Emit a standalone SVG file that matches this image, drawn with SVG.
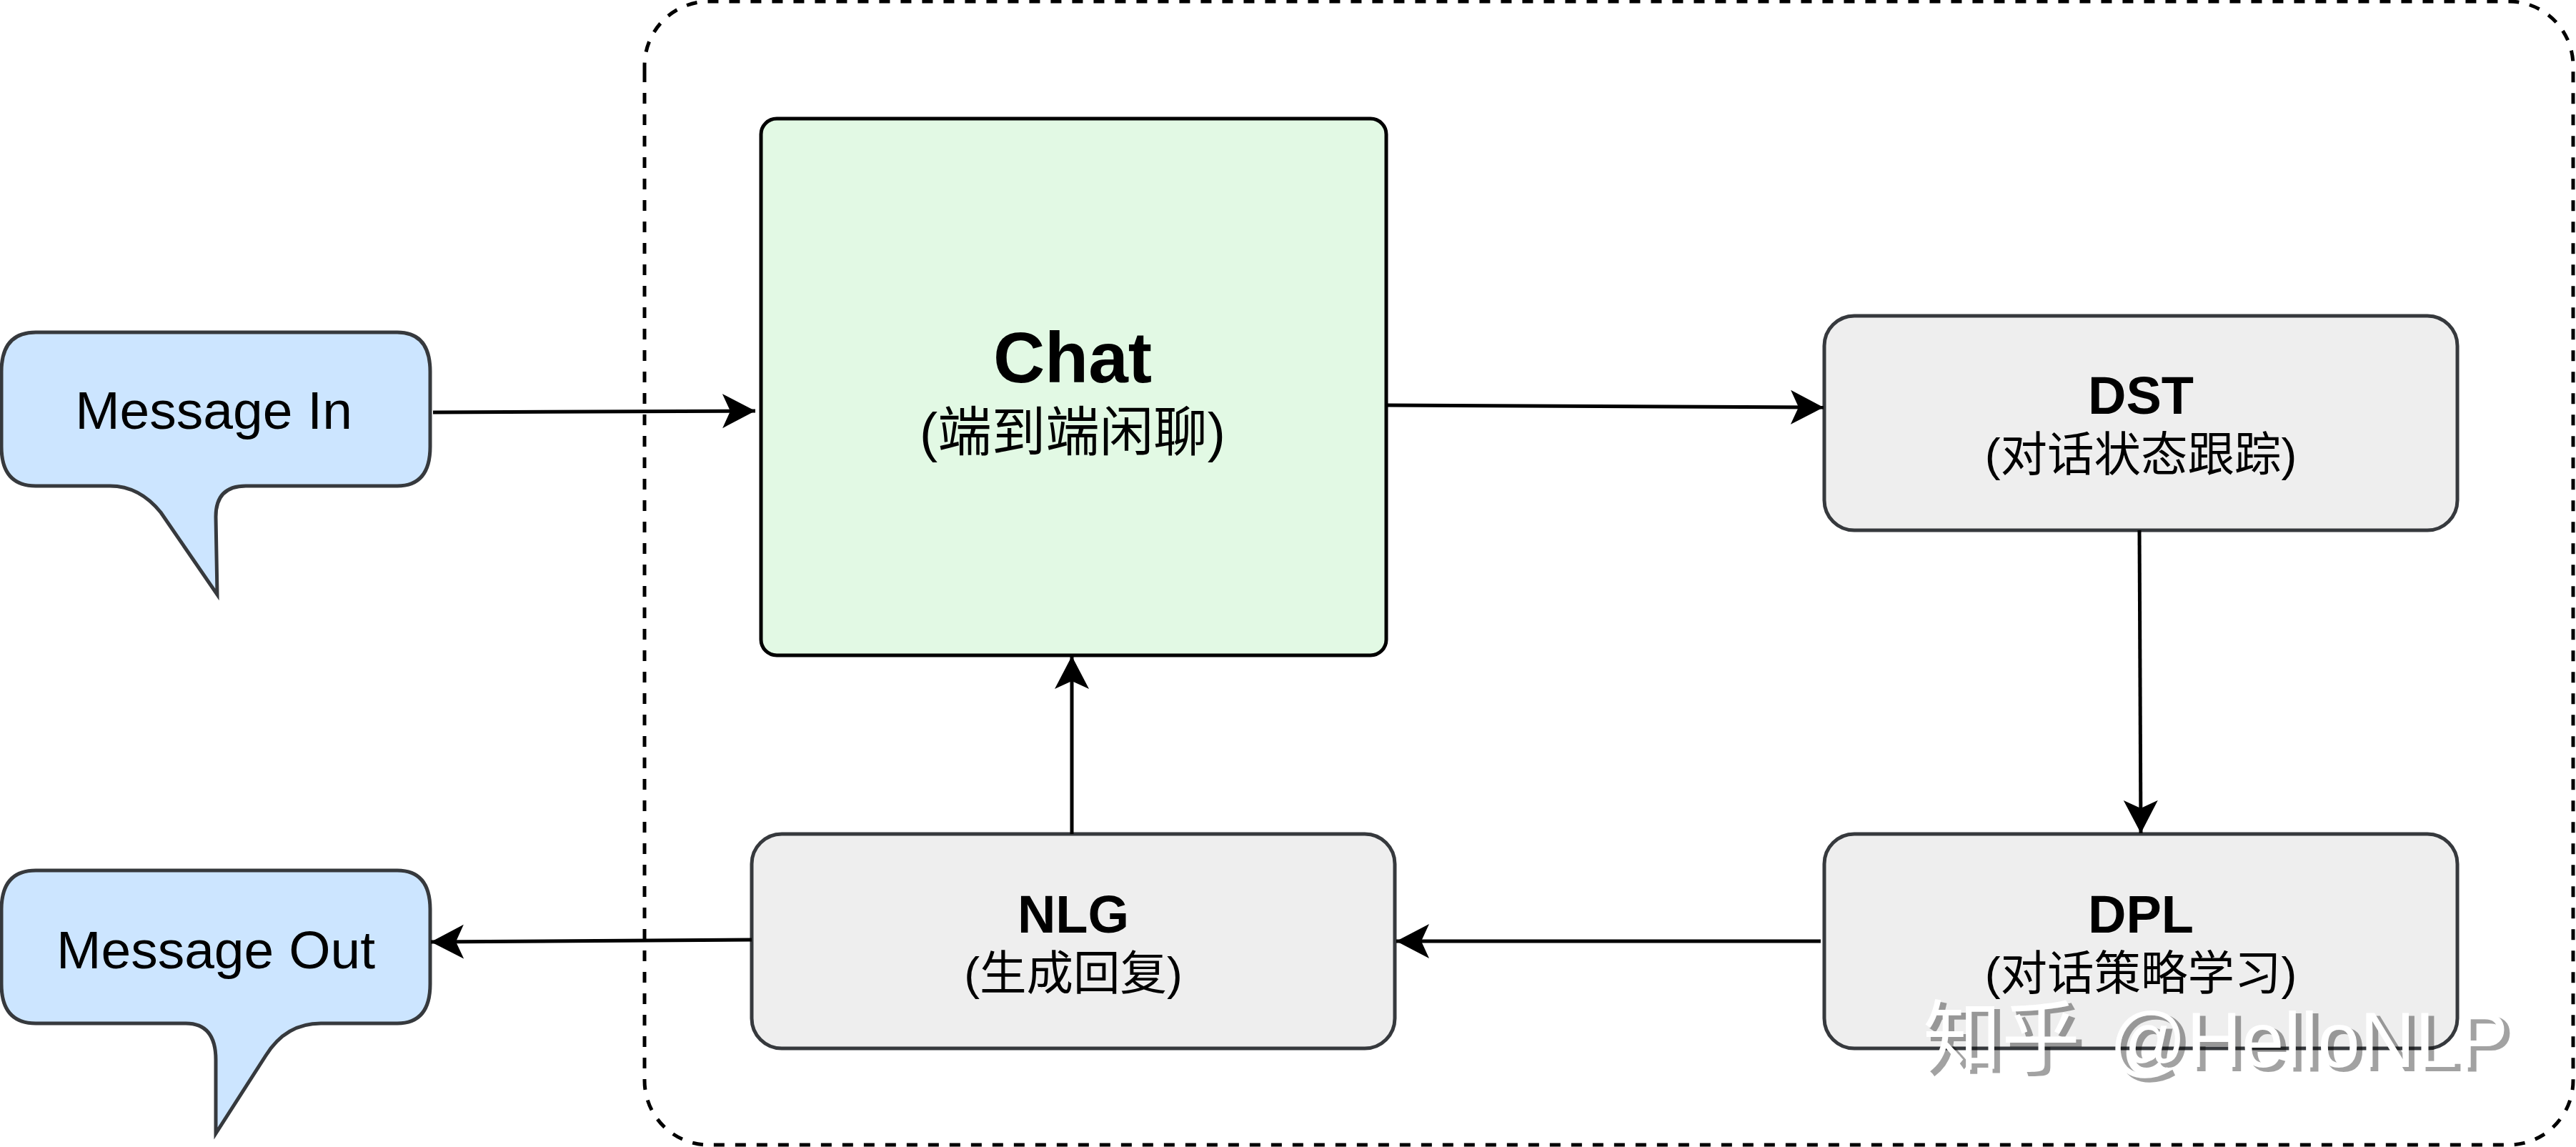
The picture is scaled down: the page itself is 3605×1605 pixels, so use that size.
<svg xmlns="http://www.w3.org/2000/svg" width="3605" height="1605" viewBox="0 0 3605 1605">
<style>
text{font-family:"Liberation Sans","Noto Sans CJK SC",sans-serif;text-anchor:middle;fill:#000}
.m{font-size:75px}
.b{font-size:74px;font-weight:700}
.t{font-size:100px;font-weight:700}
.s{font-size:65.5px}
.c{font-size:75.5px}
.box{fill:#eeeeee;stroke:#36393d;stroke-width:5}
.bub{fill:#cce5ff;stroke:#36393d;stroke-width:5;stroke-linejoin:miter}
.conn{fill:none;stroke:#000;stroke-width:5;marker-end:url(#arrow)}
.wm{font-size:110px}
.wh{font-size:110px;stroke-width:2}
</style>
<defs>
<marker id="arrow" markerUnits="userSpaceOnUse" markerWidth="50" markerHeight="54" viewBox="0 -27 50 54" refX="46" refY="0" orient="auto">
<path d="M46,0 L0,-24 L11,0 L0,24 Z" fill="#000"/>
</marker>
</defs>
<rect width="3605" height="1605" fill="#fff"/>
<g id="container">
<path d="M902,100 V1512 A90,90 0 0 0 992,1602 H3511 A90,90 0 0 0 3601,1512 V92 A90,90 0 0 0 3511,2 H992 A90,90 0 0 0 902,92 Z" fill="none" stroke="#000" stroke-width="5" stroke-dasharray="15 15"/>
</g>
<g id="message-in">
<path class="bub" d="M50,465 H556 Q602,465 602,520 V625 Q602,680 556,680 H344 Q302,680 302,723 L304,832 L225,717 Q195,680 154,680 H50 Q2,680 2,625 V520 Q2,465 50,465 Z"/>
<text class="m" x="299" y="600">Message In</text>
</g>
<g id="message-out">
<path class="bub" d="M50,1218 H556 Q602,1218 602,1273 V1377 Q602,1432 556,1432 H449 Q400,1432 372,1477 L302,1586 V1483 Q302,1432 260,1432 H50 Q2,1432 2,1377 V1273 Q2,1218 50,1218 Z"/>
<text class="m" x="302" y="1355">Message Out</text>
</g>
<g id="chat">
<rect x="1065" y="166" width="875" height="751" rx="22" ry="22" fill="#e2f9e4" stroke="#000" stroke-width="5"/>
<text class="t" x="1501" y="535">Chat</text>
<text class="c" x="1501" y="631">(端到端闲聊)</text>
</g>
<g id="dst">
<rect class="box" x="2553" y="442" width="886" height="300" rx="42" ry="42"/>
<text class="b" x="2996" y="579">DST</text>
<text class="s" x="2996" y="659">(对话状态跟踪)</text>
</g>
<g id="dpl">
<rect class="box" x="2553" y="1167" width="886" height="300" rx="42" ry="42"/>
<text class="b" x="2996" y="1305">DPL</text>
<text class="s" x="2996" y="1385">(对话策略学习)</text>
</g>
<g id="nlg">
<rect class="box" x="1052" y="1167" width="900" height="300" rx="42" ry="42"/>
<text class="b" x="1502" y="1305">NLG</text>
<text class="s" x="1502" y="1385">(生成回复)</text>
</g>
<g id="connectors">
<path class="conn" d="M606,577 L1057,575"/>
<path class="conn" d="M1942,567 L2552,570"/>
<path class="conn" d="M2994,742 L2996,1166"/>
<path class="conn" d="M2548,1317 L1954,1317"/>
<path class="conn" d="M1500,1167 L1500,918"/>
<path class="conn" d="M1052,1315 L603,1318"/>
</g>
<g id="watermark">
<g opacity="0.36">
<text class="wm" x="2808" y="1496" style="fill:#000;stroke:#000;stroke-width:2">知乎</text>
<text class="wm" x="3238" y="1498" style="fill:#000;stroke:#000;stroke-width:2" textLength="558" lengthAdjust="spacingAndGlyphs">@HelloNLP</text>
</g>
<text class="wm" x="2801" y="1491" style="fill:#fff">知乎</text>
<text class="wm" x="3231" y="1493" style="fill:#fff" textLength="558" lengthAdjust="spacingAndGlyphs">@HelloNLP</text>
</g>
</svg>
